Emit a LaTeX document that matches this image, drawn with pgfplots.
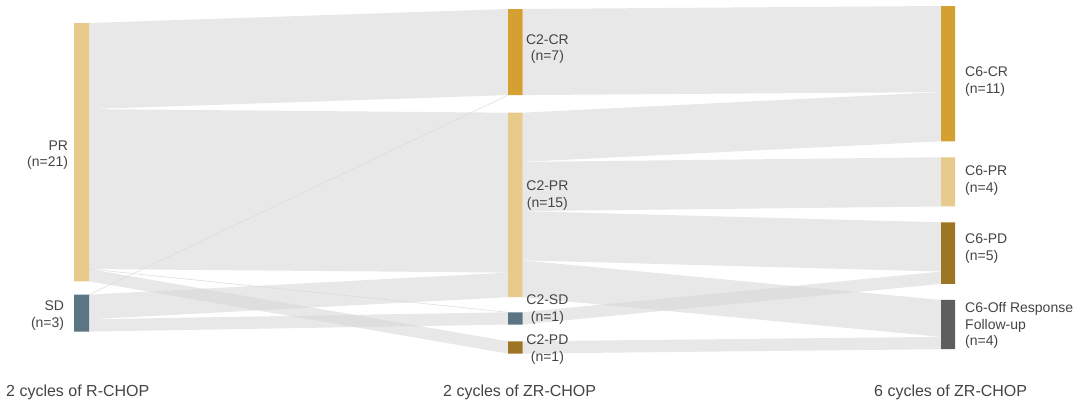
\documentclass[border=0pt]{standalone}
\usepackage{pgfplots}
\pgfplotsset{compat=1.18}
\usepackage{fontspec}
\setmainfont{Liberation Sans}
\definecolor{flowc}{RGB}{215,215,215}
\definecolor{cCR}{RGB}{212,160,50}
\definecolor{cPR}{RGB}{232,202,140}
\definecolor{cSD}{RGB}{91,117,132}
\definecolor{cPD}{RGB}{158,117,34}
\definecolor{cOFF}{RGB}{94,94,94}
\definecolor{txt}{RGB}{68,68,68}
\tikzset{
  flow/.style={fill=flowc, fill opacity=0.57, draw=none},
  zero/.style={draw=flowc, line width=0.6bp, draw opacity=0.8},
  lab/.style={text=txt, font=\fontsize{14bp}{17bp}\selectfont, inner sep=0pt},
  ttl/.style={text=txt, font=\fontsize{16bp}{19bp}\selectfont, inner sep=0pt}}
\begin{document}
\begin{tikzpicture}
\begin{axis}[at={(0,0)}, anchor=south west, scale only axis,
  width=1080bp, height=408bp,
  xmin=0, xmax=1080, ymin=-0.4878, ymax=32.683, y dir=reverse,
  hide axis, clip=false]
% ---- flows: 2 cycles R-CHOP -> 2 cycles ZR-CHOP
% PR -> C2-CR (7)
\addplot[flow] coordinates {(89,1.382) (508,0.244) (508,7.244) (89,8.382) (89,1.382)};
% PR -> C2-PR (13)
\addplot[flow] coordinates {(89,8.382) (508,8.675) (508,21.675) (89,21.382) (89,8.382)};
% PR -> C2-PD (1)
\addplot[flow] coordinates {(89,21.382) (508,27.26) (508,28.26) (89,22.382) (89,21.382)};
% SD -> C2-PR (2)
\addplot[flow] coordinates {(89,23.47) (508,21.675) (508,23.675) (89,25.47) (89,23.47)};
% SD -> C2-SD (1)
\addplot[flow] coordinates {(89,25.47) (508,24.9) (508,25.9) (89,26.47) (89,25.47)};
% zero flows
\addplot[zero] coordinates {(89,23.47) (508,7.244)};
\addplot[zero] coordinates {(89,21.382) (508,24.9)};
% ---- flows: 2 cycles ZR-CHOP -> 6 cycles ZR-CHOP
% C2-CR -> C6-CR (7)
\addplot[flow] coordinates {(522.5,0.244) (941,0) (941,7) (522.5,7.244) (522.5,0.244)};
% C2-PR -> C6-CR (4)
\addplot[flow] coordinates {(522.5,8.675) (941,7) (941,11) (522.5,12.675) (522.5,8.675)};
% C2-PR -> C6-PR (4)
\addplot[flow] coordinates {(522.5,12.675) (941,12.3) (941,16.3) (522.5,16.675) (522.5,12.675)};
% C2-PR -> C6-PD (4)
\addplot[flow] coordinates {(522.5,16.675) (941,17.59) (941,21.59) (522.5,20.675) (522.5,16.675)};
% C2-PR -> C6-Off (3)
\addplot[flow] coordinates {(522.5,20.675) (941,23.9) (941,26.9) (522.5,23.675) (522.5,20.675)};
% C2-SD -> C6-PD (1)
\addplot[flow] coordinates {(522.5,24.9) (941,21.59) (941,22.59) (522.5,25.9) (522.5,24.9)};
% C2-PD -> C6-Off (1)
\addplot[flow] coordinates {(522.5,27.26) (941,26.9) (941,27.9) (522.5,28.26) (522.5,27.26)};
% ---- nodes
\addplot[fill=cPR, draw=none] coordinates {(74,1.382) (89,1.382) (89,22.382) (74,22.382) (74,1.382)};
\addplot[fill=cSD, draw=none] coordinates {(74,23.47) (89,23.47) (89,26.47) (74,26.47) (74,23.47)};
\addplot[fill=cCR, draw=none] coordinates {(508,0.244) (522.5,0.244) (522.5,7.244) (508,7.244) (508,0.244)};
\addplot[fill=cPR, draw=none] coordinates {(508,8.675) (522.5,8.675) (522.5,23.675) (508,23.675) (508,8.675)};
\addplot[fill=cSD, draw=none] coordinates {(508,24.9) (522.5,24.9) (522.5,25.9) (508,25.9) (508,24.9)};
\addplot[fill=cPD, draw=none] coordinates {(508,27.26) (522.5,27.26) (522.5,28.26) (508,28.26) (508,27.26)};
\addplot[fill=cCR, draw=none] coordinates {(941,0) (955,0) (955,11) (941,11) (941,0)};
\addplot[fill=cPR, draw=none] coordinates {(941,12.3) (955,12.3) (955,16.3) (941,16.3) (941,12.3)};
\addplot[fill=cPD, draw=none] coordinates {(941,17.59) (955,17.59) (955,22.59) (941,22.59) (941,17.59)};
\addplot[fill=cOFF, draw=none] coordinates {(941,23.9) (955,23.9) (955,27.9) (941,27.9) (941,23.9)};
% ---- labels
\node[lab, anchor=base east] at (axis cs:68.3,11.76) {PR};
\node[lab, anchor=base east] at (axis cs:68.3,13.07) {(n=21)};
\node[lab, anchor=base east] at (axis cs:64.3,24.77) {SD};
\node[lab, anchor=base east] at (axis cs:64.3,26.14) {(n=3)};
\node[lab, anchor=base] at (axis cs:547.4,3.11) {C2-CR};
\node[lab, anchor=base] at (axis cs:547.4,4.47) {(n=7)};
\node[lab, anchor=base] at (axis cs:547.4,14.96) {C2-PR};
\node[lab, anchor=base] at (axis cs:547.4,16.38) {(n=15)};
\node[lab, anchor=base] at (axis cs:547.4,24.23) {C2-SD};
\node[lab, anchor=base] at (axis cs:547.4,25.65) {(n=1)};
\node[lab, anchor=base] at (axis cs:547.4,27.54) {C2-PD};
\node[lab, anchor=base] at (axis cs:547.4,28.94) {(n=1)};
\node[lab, anchor=base west] at (axis cs:965,5.73) {C6-CR};
\node[lab, anchor=base west] at (axis cs:965,7.11) {(n=11)};
\node[lab, anchor=base west] at (axis cs:965,13.80) {C6-PR};
\node[lab, anchor=base west] at (axis cs:965,15.20) {(n=4)};
\node[lab, anchor=base west] at (axis cs:965,19.29) {C6-PD};
\node[lab, anchor=base west] at (axis cs:965,20.67) {(n=5)};
\node[lab, anchor=base west] at (axis cs:965,24.88) {C6-Off Response};
\node[lab, anchor=base west] at (axis cs:965,26.26) {Follow-up};
\node[lab, anchor=base west] at (axis cs:965,27.64) {(n=4)};
\node[ttl, anchor=base west] at (axis cs:6,31.71) {2 cycles of R-CHOP};
\node[ttl, anchor=base west] at (axis cs:443,31.71) {2 cycles of ZR-CHOP};
\node[ttl, anchor=base west] at (axis cs:874,31.71) {6 cycles of ZR-CHOP};
\end{axis}
\pgfresetboundingbox
\path (0,0) rectangle (1080bp,408bp);
\end{tikzpicture}
\end{document}
